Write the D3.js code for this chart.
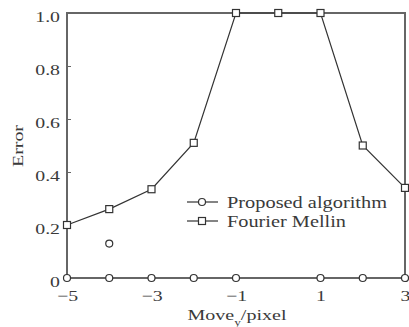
<!DOCTYPE html>
<html><head><meta charset="utf-8">
<script src="https://cdn.jsdelivr.net/npm/d3@7"></script>
<style>body{margin:0;background:#fff}svg{display:block}text{font-family:"Liberation Serif","DejaVu Serif",serif}</style>
</head><body>
<svg id="c" width="409" height="327"></svg>
<script>
const xValues = [-5,-4,-3,-2,-1,0,1,2,3];
const fourierMellin = [0.2,0.26,0.335,0.51,1.0,1.0,1.0,0.5,0.34];
const proposed = [0,0,0,0,0,null,0,0,0];
const proposedExtraX = [-4];
const proposedExtraY = [0.13];
const xTicks = [-5,-3,-1,1,3];
const yTicks = [0,0.2,0.4,0.6,0.8,1.0];
const yTickLabels = ["0","0.2","0.4","0.6","0.8","1.0"];
const seriesNames = ["Proposed algorithm","Fourier Mellin"];

const svg = d3.select("#c");
const L=67,R=405,T=13,B=278;
const x = d3.scaleLinear().domain([-5,3]).range([L,R]);
const y = d3.scaleLinear().domain([0,1]).range([B,T]);
const axisCol="#666", lineCol="#333", txtCol="#3a3a3a";
const SX = 1.32;
function stretch(sel){ sel.each(function(){ const w=this.getComputedTextLength(); d3.select(this).attr("textLength",w*SX).attr("lengthAdjust","spacingAndGlyphs"); }); }

// frame
svg.append("rect").attr("x",L).attr("y",T).attr("width",R-L).attr("height",B-T)
  .attr("fill","none").attr("stroke",axisCol).attr("stroke-width",2);

// axes
const yAxis = d3.axisLeft(y).tickValues(yTicks).tickFormat((d,i)=>yTickLabels[i]).tickSizeInner(-4).tickSizeOuter(0).tickPadding(7);
const gy = svg.append("g").attr("transform",`translate(${L},0)`).call(yAxis);
gy.select(".domain").remove();
gy.selectAll("line").attr("stroke",axisCol);
gy.selectAll("text").attr("fill",txtCol).style("font-size","15px").attr("dy","0.55em");
stretch(gy.selectAll("text"));

const xAxis = d3.axisBottom(x).tickValues(xTicks).tickFormat(d=>d<0?"\u2212"+Math.abs(d):d).tickSize(0).tickPadding(12);
const gx = svg.append("g").attr("transform",`translate(0,${B})`).call(xAxis);
gx.select(".domain").remove();
gx.selectAll("text").attr("fill",txtCol).style("font-size","15px");
stretch(gx.selectAll("text"));

// titles
svg.append("text").attr("x",237).attr("y",320).attr("text-anchor","middle").attr("fill",txtCol).style("font-size","15px")
  .attr("textLength",99).attr("lengthAdjust","spacingAndGlyphs")
  .html('Move<tspan baseline-shift="sub" font-size="10">y</tspan>/pixel');
svg.append("text").attr("transform","translate(23,146) rotate(-90)").attr("text-anchor","middle").attr("fill",txtCol).style("font-size","14px")
  .attr("textLength",42).attr("lengthAdjust","spacingAndGlyphs").text("Error");

// Fourier Mellin
const line = d3.line().defined(d=>d[1]!==null).x(d=>x(d[0])).y(d=>y(d[1]));
const fm = xValues.map((v,i)=>[v,fourierMellin[i]]);
svg.append("path").datum(fm).attr("d",line).attr("fill","none").attr("stroke",lineCol).attr("stroke-width",1.2);
svg.selectAll(".sq").data(fm).enter().append("rect").attr("x",d=>x(d[0])-3.5).attr("y",d=>y(d[1])-3.5)
  .attr("width",7).attr("height",7).attr("fill","#fff").attr("stroke",lineCol).attr("stroke-width",1.2);

// Proposed
const pr = xValues.map((v,i)=>[v,proposed[i]]);
svg.append("path").datum(pr.filter(d=>d[1]!==null)).attr("d",line).attr("fill","none").attr("stroke",axisCol).attr("stroke-width",2);
svg.selectAll(".ci").data(pr.filter(d=>d[1]!==null)).enter().append("circle").attr("cx",d=>x(d[0])).attr("cy",d=>y(d[1]))
  .attr("r",3.5).attr("fill","#fff").attr("stroke",lineCol).attr("stroke-width",1.2);
svg.selectAll(".ce").data(proposedExtraX.map((v,i)=>[v,proposedExtraY[i]])).enter().append("circle")
  .attr("cx",d=>x(d[0])).attr("cy",d=>y(d[1])).attr("r",3.5).attr("fill","#fff").attr("stroke",lineCol).attr("stroke-width",1.2);

// legend
const lg = svg.append("g");
const legW = [160,119];
seriesNames.forEach((n,i)=>{
  const yy = 202+i*19;
  lg.append("line").attr("x1",187).attr("x2",218).attr("y1",yy).attr("y2",yy).attr("stroke",lineCol).attr("stroke-width",1.2);
  if(i===0) lg.append("circle").attr("cx",202).attr("cy",yy).attr("r",3.5).attr("fill","#fff").attr("stroke",lineCol).attr("stroke-width",1.2);
  else lg.append("rect").attr("x",198.5).attr("y",yy-3.5).attr("width",7).attr("height",7).attr("fill","#fff").attr("stroke",lineCol).attr("stroke-width",1.2);
  lg.append("text").attr("x",227).attr("y",yy+6).attr("fill",txtCol).style("font-size","16.5px")
    .attr("textLength",legW[i]).attr("lengthAdjust","spacingAndGlyphs").text(n);
});
</script>
</body></html>
